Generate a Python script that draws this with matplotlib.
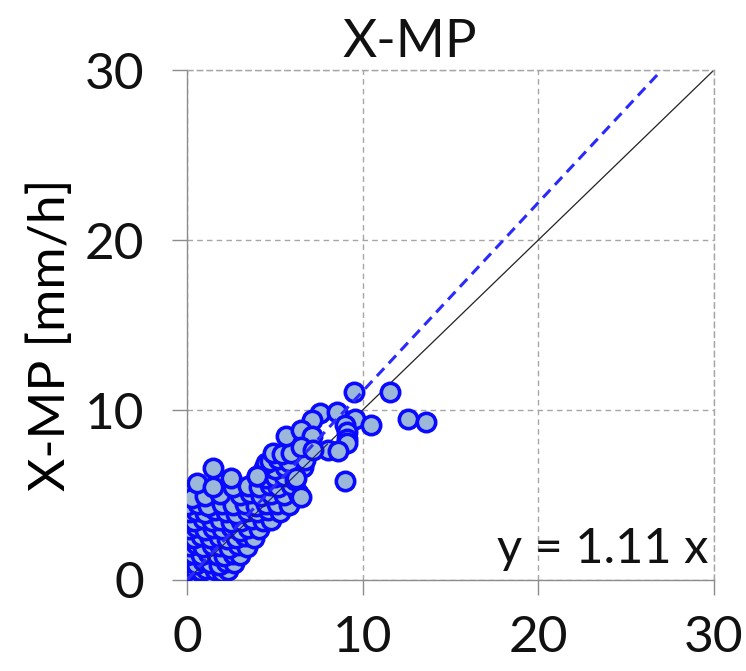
import matplotlib
matplotlib.use("Agg")
import matplotlib.pyplot as plt
import numpy as np

# ---- data ----
obs_x = [
    # dense core, row by row
    0.1, 0.3, 0.6, 0.9, 1.2, 1.5,
    0.05, 0.4, 0.8, 1.1, 1.6, 2.0, 2.35,
    0.1, 0.5, 0.9, 1.3, 1.8, 2.2, 2.7,
    0.0, 0.35, 0.8, 1.2, 1.7, 2.1, 2.6, 3.0,
    0.1, 0.5, 0.9, 1.4, 1.9, 2.4, 2.9, 3.4,
    0.05, 0.4, 0.8, 1.3, 1.8, 2.3, 2.8, 3.3, 3.8,
    0.1, 0.5, 1.0, 1.5, 2.0, 2.5, 3.0, 3.5, 4.1,
    0.05, 0.4, 0.9, 1.4, 1.9, 2.5, 3.1, 3.7, 4.3, 4.8,
    0.1, 0.5, 1.0, 1.6, 2.2, 2.8, 3.4, 4.0, 4.6, 5.3,
    0.0, 0.6, 1.2, 2.0, 2.6, 3.3, 3.9, 4.5, 5.1, 5.8,
    0.3, 1.0, 1.9, 3.0, 3.6, 4.2, 4.8, 5.5, 6.3,
    0.55, 1.5, 2.6, 3.5, 4.1, 4.7, 5.2, 5.9,
    2.5, 4.0, 4.5, 5.0, 5.5, 6.15,
    1.5, 4.4, 5.0, 5.6, 6.6,
    4.5, 4.7, 5.2, 5.8, 6.7,
    4.9, 5.4, 5.9,
    # scattered upper points
    9.5, 11.55, 7.57, 8.52, 7.1, 9.56, 10.5, 12.6, 13.6,
    5.63, 6.5, 7.1, 9.0, 9.1, 9.1, 9.1, 8.04, 8.6, 6.5, 7.2,
    9.0, 6.5, 3.97, 6.2,
]
obs_y = [
    0.15, 0.25, 0.1, 0.3, 0.2, 0.1,
    0.6, 0.7, 0.55, 0.65, 0.6, 0.5, 0.6,
    1.05, 0.95, 1.1, 1.0, 0.9, 1.05, 1.0,
    1.5, 1.55, 1.45, 1.6, 1.5, 1.4, 1.55, 1.45,
    2.0, 2.1, 1.95, 2.05, 2.0, 1.9, 2.05, 1.95,
    2.5, 2.45, 2.6, 2.5, 2.55, 2.4, 2.5, 2.6, 2.45,
    3.0, 3.1, 2.95, 3.05, 3.0, 3.1, 2.9, 3.05, 3.0,
    3.5, 3.45, 3.6, 3.5, 3.55, 3.4, 3.5, 3.6, 3.45, 3.55,
    4.0, 4.05, 3.95, 4.1, 4.0, 3.9, 4.05, 4.0, 4.1, 4.0,
    4.4, 4.5, 4.35, 4.45, 4.4, 4.5, 4.35, 4.45, 4.5, 4.4,
    4.8, 4.95, 5.05, 5.0, 5.1, 4.95, 5.05, 5.0, 5.1,
    5.7, 5.45, 5.5, 5.55, 5.5, 5.6, 5.5, 5.6,
    6.0, 6.1, 6.0, 6.05, 6.1, 5.9,
    6.6, 6.6, 6.55, 6.65, 6.65,
    6.9, 7.0, 7.1, 6.95, 7.05,
    7.45, 7.4, 7.5,
    11.08, 11.08, 9.8, 9.9, 9.4, 9.45, 9.1, 9.5, 9.3,
    8.5, 8.8, 8.5, 9.1, 8.7, 8.3, 8.05, 7.65, 7.6, 7.85, 7.65,
    5.8, 4.9, 6.1, 6.0,
]
slope = 1.11
ticks = [0, 10, 20, 30]
title = "X-MP"
ylabel = "X-MP [mm/h]"

# ---- figure ----
font = ["Lato", "DejaVu Sans"]
plt.rcParams["font.family"] = font

fig = plt.figure(figsize=(7.46, 6.71), dpi=100)
ax = fig.add_axes([187 / 746, 1 - 580 / 671, (714 - 187) / 746, (580 - 70) / 671])

grid_col = "#a6a6a6"
spine_col = "#8c8c8c"

ax.set_xlim(0, 30)
ax.set_ylim(0, 30)
ax.set_xticks(ticks)
ax.set_yticks(ticks)
ax.grid(True, color=grid_col, linestyle=(0, (4, 3)), linewidth=1.0)
ax.set_axisbelow(True)

for s in ["left", "bottom"]:
    ax.spines[s].set_color(spine_col)
    ax.spines[s].set_linewidth(1.0)
for s in ["top", "right"]:
    ax.spines[s].set_color(grid_col)
    ax.spines[s].set_linestyle((0, (4, 3)))
    ax.spines[s].set_linewidth(1.0)

ax.tick_params(axis="both", direction="out", length=11, width=1.0,
               color=spine_col, labelsize=37, labelcolor="#111111")
ax.tick_params(axis="x", pad=14)
ax.tick_params(axis="y", pad=20)

# 1:1 line
ax.plot([0, 30], [0, 30], color="#222222", linewidth=0.9, zorder=2)

ax.scatter(obs_x, obs_y, s=175, facecolor="#9bb8da", edgecolor="#0a0aff",
           linewidth=2.6, zorder=3)
# 1:1 line drawn faintly over the dense cloud as in the reference
ax.plot([0, 8], [0, 8], color="#1a1a60", linewidth=0.8, zorder=3.5)

# fitted line y = slope * x
xf = np.array([0, 30 / slope])
ax.plot(xf, slope * xf, color="#2a2aff", linewidth=2.2,
        linestyle=(0, (3.5, 2.2)), zorder=4)

ax.set_ylabel(ylabel, fontsize=37)
ax.yaxis.set_label_coords(-0.215, 0.48)

fig.text(410 / 746, 1 - 57 / 671, title, fontsize=38, ha="center",
         va="baseline", color="#111111")
fig.text(708 / 746, 1 - 563 / 671, f"y = {slope:.2f} x", fontsize=35,
         ha="right", va="baseline", color="#111111")

fig.savefig("out.png", dpi=100)
